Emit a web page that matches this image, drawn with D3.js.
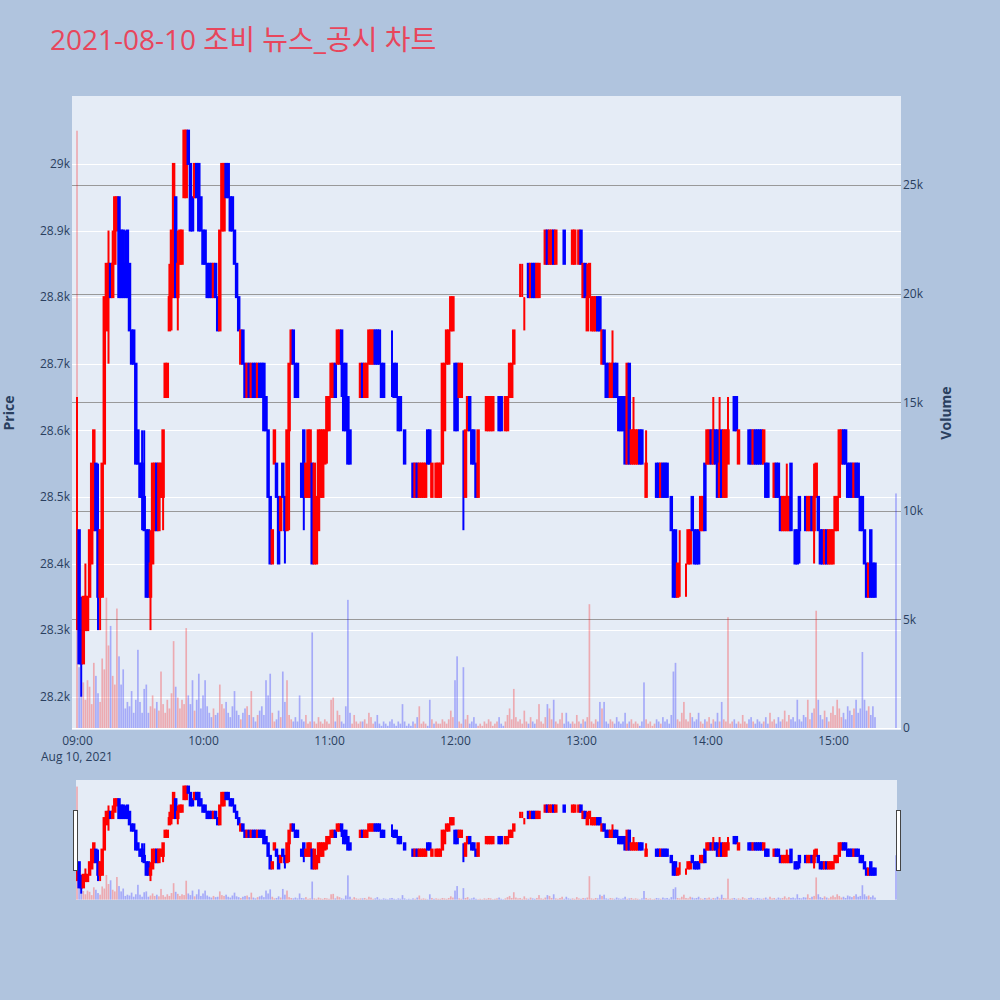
<!DOCTYPE html>
<html>
<head>
<meta charset="utf-8">
<script src="https://cdn.jsdelivr.net/npm/d3@7"></script>
<style>
  body { margin: 0; background: #b0c4de; }
  svg { display: block; }
</style>
</head>
<body>
<div id="chart"></div>
<script>
const tradeDate = '2021-08-10';
const chartTitle = '2021-08-10 조비 뉴스_공시 차트';

const times = [
	'09:00','09:01','09:02','09:03','09:04','09:05','09:06','09:07','09:08','09:09',
	'09:10','09:11','09:12','09:13','09:14','09:15','09:16','09:17','09:18','09:19',
	'09:20','09:21','09:22','09:23','09:24','09:25','09:26','09:27','09:28','09:29',
	'09:30','09:31','09:32','09:33','09:34','09:35','09:36','09:37','09:38','09:39',
	'09:40','09:41','09:42','09:43','09:44','09:45','09:46','09:47','09:48','09:49',
	'09:50','09:51','09:52','09:53','09:54','09:55','09:56','09:57','09:58','09:59',
	'10:00','10:01','10:02','10:03','10:04','10:05','10:06','10:07','10:08','10:09',
	'10:10','10:11','10:12','10:13','10:14','10:15','10:16','10:17','10:18','10:19',
	'10:20','10:21','10:22','10:23','10:24','10:25','10:26','10:27','10:28','10:29',
	'10:30','10:31','10:32','10:33','10:34','10:35','10:36','10:37','10:38','10:39',
	'10:40','10:41','10:42','10:43','10:44','10:45','10:46','10:47','10:48','10:49',
	'10:50','10:51','10:52','10:53','10:54','10:55','10:56','10:57','10:58','10:59',
	'11:00','11:01','11:02','11:03','11:04','11:05','11:06','11:07','11:08','11:09',
	'11:10','11:11','11:12','11:13','11:14','11:15','11:16','11:17','11:18','11:19',
	'11:20','11:21','11:22','11:23','11:24','11:25','11:26','11:27','11:28','11:29',
	'11:30','11:31','11:32','11:33','11:34','11:35','11:36','11:37','11:38','11:39',
	'11:40','11:41','11:42','11:43','11:44','11:45','11:46','11:47','11:48','11:49',
	'11:50','11:51','11:52','11:53','11:54','11:55','11:56','11:57','11:58','11:59',
	'12:00','12:01','12:02','12:03','12:04','12:05','12:06','12:07','12:08','12:09',
	'12:10','12:11','12:12','12:13','12:14','12:15','12:16','12:17','12:18','12:19',
	'12:20','12:21','12:22','12:23','12:24','12:25','12:26','12:27','12:28','12:29',
	'12:30','12:31','12:32','12:33','12:34','12:35','12:36','12:37','12:38','12:39',
	'12:40','12:41','12:42','12:43','12:44','12:45','12:46','12:47','12:48','12:49',
	'12:50','12:51','12:52','12:53','12:54','12:55','12:56','12:57','12:58','12:59',
	'13:00','13:01','13:02','13:03','13:04','13:05','13:06','13:07','13:08','13:09',
	'13:10','13:11','13:12','13:13','13:14','13:15','13:16','13:17','13:18','13:19',
	'13:20','13:21','13:22','13:23','13:24','13:25','13:26','13:27','13:28','13:29',
	'13:30','13:31','13:32','13:33','13:34','13:35','13:36','13:37','13:38','13:39',
	'13:40','13:41','13:42','13:43','13:44','13:45','13:46','13:47','13:48','13:49',
	'13:50','13:51','13:52','13:53','13:54','13:55','13:56','13:57','13:58','13:59',
	'14:00','14:01','14:02','14:03','14:04','14:05','14:06','14:07','14:08','14:09',
	'14:10','14:11','14:12','14:13','14:14','14:15','14:16','14:17','14:18','14:19',
	'14:20','14:21','14:22','14:23','14:24','14:25','14:26','14:27','14:28','14:29',
	'14:30','14:31','14:32','14:33','14:34','14:35','14:36','14:37','14:38','14:39',
	'14:40','14:41','14:42','14:43','14:44','14:45','14:46','14:47','14:48','14:49',
	'14:50','14:51','14:52','14:53','14:54','14:55','14:56','14:57','14:58','14:59',
	'15:00','15:01','15:02','15:03','15:04','15:05','15:06','15:07','15:08','15:09',
	'15:10','15:11','15:12','15:13','15:14','15:15','15:16','15:17','15:18','15:19',
	'15:20','15:30'
];

const opens = [
	28450,28450,28300,28250,28300,28300,28350,28400,28450,28550,
	28450,28350,28350,28550,28750,28800,28850,28800,28850,28900,
	28950,28900,28900,28850,28900,28850,28750,28750,28700,28600,
	28550,28550,28500,28450,28450,28350,28400,28450,28550,28450,
	28500,28500,28650,28650,28750,28800,28800,28950,28800,28850,
	28850,28950,28950,29050,29000,28950,28950,29000,29000,28950,
	28900,28900,28850,28850,28850,28800,28850,28800,28750,28900,
	28900,29000,29000,28950,28950,28900,28850,28800,28700,28750,
	28700,28650,28700,28650,28700,28700,28650,28700,28700,28700,
	28650,28600,28500,28400,28550,28550,28500,28450,28550,28500,
	28450,28600,28700,28750,28700,28700,28600,28550,28600,28500,
	28500,28500,28550,28400,28400,28450,28500,28500,28550,28600,
	28600,28650,28650,28700,28700,28700,28750,28700,28700,28650,
	28600,28650,28650,28650,28650,28650,28700,28650,28650,28700,
	28700,28700,28750,28750,28750,28700,28700,28650,28650,28650,
	28650,28700,28700,28650,28650,28600,28600,28550,28550,28550,
	28550,28500,28550,28500,28500,28500,28500,28600,28600,28500,
	28500,28500,28500,28500,28550,28600,28700,28700,28750,28750,
	28700,28700,28650,28650,28600,28500,28600,28650,28600,28600,
	28550,28500,28600,28600,28600,28600,28600,28600,28600,28650,
	28650,28650,28650,28600,28600,28600,28650,28650,28700,28800,
	28800,28800,28800,28800,28800,28850,28800,28850,28850,28800,
	28800,28850,28850,28850,28900,28850,28850,28900,28850,28900,
	28900,28900,28900,28850,28850,28850,28850,28850,28900,28850,
	28900,28800,28850,28750,28800,28750,28750,28750,28800,28800,
	28700,28750,28700,28700,28650,28650,28700,28700,28650,28650,
	28650,28650,28550,28700,28550,28550,28550,28550,28600,28600,
	28550,28500,28550,28550,28550,28550,28550,28550,28500,28550,
	28550,28550,28500,28500,28450,28450,28350,28400,28400,28400,
	28400,28400,28400,28500,28450,28450,28450,28450,28450,28550,
	28550,28550,28600,28550,28600,28600,28500,28600,28500,28500,
	28550,28650,28650,28650,28650,28550,28600,28600,28600,28600,
	28600,28600,28550,28600,28600,28600,28600,28550,28550,28550,
	28550,28550,28500,28550,28550,28500,28450,28450,28450,28450,
	28550,28450,28450,28450,28500,28450,28450,28500,28450,28450,
	28500,28450,28500,28500,28450,28450,28400,28450,28400,28400,
	28400,28450,28450,28500,28550,28600,28600,28550,28550,28550,
	28500,28550,28550,28500,28500,28450,28400,28350,28450,28400,
	28400,28350
];

const highs = [
	28650,28450,28350,28350,28400,28350,28450,28550,28600,28550,
	28550,28450,28550,28800,28850,28900,28850,28900,28950,28950,
	28950,28900,28900,28900,28900,28850,28750,28750,28700,28600,
	28550,28600,28600,28450,28450,28450,28550,28550,28550,28550,
	28550,28600,28700,28700,28850,28900,29000,28950,28900,28900,
	28900,29050,29050,29050,29000,28950,29000,29000,29000,28950,
	28900,28900,28850,28850,28850,28850,28850,28800,28900,29000,
	29000,29000,29000,28950,28950,28900,28850,28800,28750,28750,
	28700,28700,28700,28700,28700,28700,28700,28700,28700,28700,
	28650,28600,28500,28450,28600,28550,28500,28500,28550,28500,
	28600,28700,28750,28750,28700,28700,28600,28550,28600,28550,
	28600,28600,28550,28550,28500,28600,28600,28600,28600,28650,
	28650,28700,28700,28700,28750,28750,28750,28700,28700,28650,
	28600,28650,28650,28650,28650,28700,28700,28700,28700,28750,
	28750,28750,28750,28750,28750,28700,28700,28650,28650,28650,
	28750,28700,28700,28650,28650,28600,28600,28550,28550,28550,
	28550,28550,28550,28550,28550,28550,28550,28600,28600,28550,
	28500,28550,28550,28550,28700,28700,28750,28750,28800,28800,
	28700,28700,28700,28700,28600,28600,28650,28650,28600,28600,
	28550,28600,28600,28600,28600,28650,28650,28650,28650,28650,
	28650,28650,28650,28600,28650,28650,28700,28700,28750,28800,
	28800,28850,28850,28800,28800,28850,28850,28850,28850,28850,
	28850,28850,28850,28900,28900,28900,28900,28900,28900,28900,
	28900,28900,28900,28850,28850,28850,28900,28900,28900,28900,
	28900,28850,28850,28850,28850,28800,28800,28800,28800,28800,
	28750,28750,28700,28700,28700,28750,28700,28700,28650,28650,
	28650,28650,28700,28700,28600,28650,28600,28600,28600,28600,
	28550,28600,28550,28550,28550,28550,28550,28550,28550,28550,
	28550,28550,28500,28500,28450,28450,28400,28450,28400,28400,
	28400,28450,28450,28500,28450,28450,28450,28500,28500,28550,
	28600,28600,28600,28650,28600,28600,28650,28600,28600,28600,
	28650,28650,28650,28650,28650,28600,28600,28600,28600,28600,
	28600,28600,28600,28600,28600,28600,28600,28600,28550,28550,
	28550,28550,28550,28550,28550,28500,28500,28500,28550,28500,
	28550,28450,28450,28450,28500,28450,28450,28500,28500,28500,
	28500,28550,28550,28500,28450,28450,28450,28450,28450,28450,
	28450,28500,28500,28600,28600,28600,28600,28550,28550,28550,
	28550,28550,28550,28500,28500,28450,28400,28400,28450,28400,
	28400,28350
];

const lows = [
	28300,28250,28200,28250,28300,28300,28350,28400,28450,28450,
	28300,28300,28350,28550,28750,28700,28800,28800,28850,28900,
	28800,28800,28800,28800,28800,28750,28700,28700,28550,28550,
	28500,28450,28450,28350,28350,28300,28400,28450,28450,28450,
	28500,28450,28650,28650,28750,28750,28800,28800,28750,28850,
	28850,28950,28950,29000,28900,28900,28950,28950,28900,28900,
	28850,28850,28800,28800,28800,28800,28800,28750,28750,28900,
	28900,28950,28950,28900,28900,28850,28800,28750,28700,28700,
	28650,28650,28650,28650,28650,28650,28650,28650,28650,28600,
	28600,28500,28400,28400,28550,28500,28400,28450,28500,28400,
	28450,28450,28700,28700,28650,28650,28600,28500,28450,28500,
	28500,28500,28400,28400,28400,28450,28500,28500,28550,28550,
	28600,28650,28650,28650,28700,28700,28650,28600,28600,28550,
	28550,28650,28650,28650,28650,28650,28650,28650,28650,28700,
	28700,28700,28700,28700,28700,28650,28650,28650,28650,28650,
	28650,28650,28650,28600,28600,28600,28550,28550,28550,28550,
	28500,28500,28500,28500,28500,28500,28500,28550,28550,28500,
	28500,28500,28500,28500,28550,28600,28700,28700,28750,28750,
	28600,28600,28650,28650,28450,28500,28600,28600,28550,28550,
	28500,28500,28600,28600,28600,28600,28600,28600,28600,28650,
	28650,28600,28600,28600,28600,28600,28650,28650,28700,28800,
	28800,28800,28800,28750,28800,28800,28800,28800,28800,28800,
	28800,28850,28850,28850,28850,28850,28850,28850,28850,28900,
	28900,28900,28850,28850,28850,28850,28850,28850,28900,28850,
	28850,28800,28800,28750,28800,28750,28750,28750,28750,28750,
	28700,28700,28650,28650,28650,28650,28650,28650,28600,28600,
	28600,28550,28550,28550,28550,28550,28550,28550,28550,28550,
	28550,28500,28550,28550,28550,28550,28500,28500,28500,28500,
	28500,28500,28500,28450,28350,28350,28350,28350,28400,28400,
	28350,28400,28400,28450,28400,28400,28400,28450,28450,28450,
	28550,28550,28550,28550,28550,28500,28500,28500,28500,28500,
	28550,28650,28650,28600,28600,28550,28600,28600,28600,28600,
	28550,28550,28550,28550,28550,28550,28550,28550,28500,28500,
	28550,28550,28500,28500,28500,28450,28450,28450,28450,28450,
	28450,28450,28400,28400,28400,28450,28450,28450,28450,28450,
	28450,28400,28500,28450,28400,28400,28400,28400,28400,28400,
	28400,28450,28450,28500,28550,28550,28550,28500,28500,28500,
	28500,28500,28500,28450,28450,28400,28350,28350,28350,28350,
	28350,28350
];

const closes = [
	28450,28250,28250,28350,28350,28350,28450,28550,28600,28450,
	28350,28450,28550,28800,28850,28850,28800,28850,28950,28950,
	28800,28800,28800,28800,28800,28750,28700,28700,28550,28550,
	28500,28500,28450,28350,28350,28400,28550,28550,28450,28550,
	28550,28600,28700,28700,28800,28900,29000,28800,28850,28900,
	28900,29050,29050,29000,28900,28900,29000,28950,28900,28900,
	28850,28850,28800,28800,28800,28850,28800,28750,28900,29000,
	29000,28950,28950,28900,28900,28850,28800,28750,28750,28700,
	28650,28700,28650,28700,28650,28650,28700,28650,28650,28600,
	28600,28500,28400,28450,28600,28500,28400,28500,28500,28450,
	28600,28700,28750,28700,28650,28650,28600,28500,28500,28550,
	28600,28600,28400,28550,28500,28600,28600,28600,28600,28650,
	28650,28700,28700,28650,28750,28750,28700,28600,28600,28550,
	28550,28650,28650,28650,28650,28700,28650,28700,28700,28750,
	28750,28750,28700,28700,28700,28650,28650,28650,28650,28650,
	28650,28650,28650,28600,28600,28600,28550,28550,28550,28550,
	28500,28550,28500,28550,28550,28550,28550,28550,28550,28550,
	28500,28550,28550,28550,28700,28700,28750,28750,28800,28800,
	28600,28600,28700,28700,28600,28600,28650,28600,28550,28550,
	28500,28600,28600,28600,28600,28650,28650,28650,28650,28650,
	28650,28600,28600,28600,28650,28650,28700,28700,28750,28800,
	28800,28800,28800,28800,28800,28800,28850,28800,28800,28850,
	28850,28850,28850,28900,28850,28900,28900,28850,28900,28900,
	28900,28900,28850,28850,28850,28850,28900,28900,28900,28900,
	28850,28850,28800,28800,28850,28800,28800,28800,28750,28750,
	28750,28700,28650,28650,28700,28700,28650,28650,28600,28600,
	28600,28550,28700,28550,28600,28600,28600,28600,28550,28550,
	28550,28550,28550,28550,28550,28550,28500,28500,28550,28500,
	28500,28500,28500,28450,28350,28350,28400,28400,28400,28400,
	28400,28450,28450,28450,28400,28400,28400,28500,28500,28450,
	28600,28600,28550,28600,28550,28500,28550,28500,28600,28600,
	28600,28650,28650,28600,28600,28600,28600,28600,28600,28600,
	28550,28550,28600,28550,28550,28550,28550,28600,28500,28500,
	28550,28550,28550,28500,28500,28450,28500,28500,28500,28500,
	28450,28450,28400,28400,28450,28450,28450,28450,28500,28500,
	28450,28500,28550,28450,28400,28400,28450,28400,28450,28450,
	28450,28500,28500,28600,28600,28550,28550,28500,28500,28500,
	28550,28500,28500,28450,28450,28400,28350,28400,28350,28350,
	28350,28350
];

const volumes = [
	27500,2800,1500,2100,1300,2200,1900,1100,3000,2400,
	1600,1200,3200,2700,6000,3800,4700,2400,2000,5500,
	3300,2000,2700,900,1200,1000,1700,700,1300,3600,
	1200,700,1800,2000,700,1000,1500,900,1200,800,
	2600,1100,700,1300,900,1600,4000,1900,1400,900,
	1300,1100,4600,1500,1100,2200,800,1300,2500,900,
	1500,2200,1000,700,500,900,600,700,2000,1100,
	900,1200,700,500,1000,1700,800,600,400,700,
	900,1000,600,1700,500,300,600,800,1000,600,
	2200,1500,2500,700,300,400,800,500,2600,1200,
	2200,600,400,300,500,300,1500,400,300,600,
	200,300,4400,300,200,500,300,200,400,300,
	200,1300,1400,300,800,600,300,200,1000,5900,
	700,200,600,300,200,300,300,400,200,700,
	500,200,300,600,200,100,300,200,100,300,
	400,200,100,300,200,1100,300,100,200,100,
	300,200,500,1000,200,300,200,100,1300,400,
	200,300,200,200,400,300,200,400,800,500,
	2200,3300,300,200,2800,400,600,200,300,500,
	200,100,200,100,300,200,400,300,100,200,
	300,500,200,100,300,600,900,400,1800,500,
	300,400,200,800,300,200,500,300,200,400,
	1100,300,200,500,1100,900,400,1300,300,200,
	400,700,200,700,300,200,300,200,600,300,
	200,400,300,500,5700,300,200,400,300,1200,
	900,1200,300,200,400,300,200,500,300,200,
	300,700,200,300,400,200,300,200,100,300,
	2100,400,200,300,100,200,400,300,200,500,
	300,400,200,600,2600,3000,400,300,700,1200,
	400,300,700,500,300,400,700,300,200,400,
	300,500,200,400,300,700,300,1200,400,300,
	5100,200,300,400,200,300,200,600,300,200,
	400,500,300,200,400,300,200,300,500,200,
	700,300,400,200,500,300,400,800,300,600,
	400,500,300,1300,400,300,600,500,1300,400,
	700,900,5400,1300,600,400,800,500,300,700,
	1000,600,1300,900,500,700,400,1000,800,600,
	900,1300,700,900,3500,1300,800,1000,600,1000,
	500,10800
];

const priceTicks = [28200, 28300, 28400, 28500, 28600, 28700, 28800, 28900, 29000];
const volumeTicks = [0, 5000, 10000, 15000, 20000, 25000];
const hourTicks = ['09:00', '10:00', '11:00', '12:00', '13:00', '14:00', '15:00'];

const upColor = '#ff0000';
const downColor = '#0000ff';
const textColor = '#2a3f5f';
const font = '"Open Sans", "Noto Sans CJK KR", sans-serif';

const parseTime = d3.timeParse('%Y-%m-%d %H:%M:%S');
const at = (hm, s = '00') => parseTime(`${tradeDate} ${hm}:${s}`);

const rows = times.map((t, i) => ({
	t: at(t),
	o: opens[i],
	h: highs[i],
	l: lows[i],
	c: closes[i],
	v: volumes[i],
}));

// flat candles keep the previous direction unless the close moved (plotly rule)
let rising = true;
let prevClose = null;
rows.forEach((d) => {
	if (d.c === d.o) {
		if (prevClose !== null && d.c !== prevClose) rising = d.c > prevClose;
	} else rising = d.c > d.o;
	d.up = rising;
	prevClose = d.c;
});

const plot = { left: 72, right: 901, top: 96, bottom: 730 };
const slider = { left: 76, right: 897, top: 780, bottom: 900 };

const x = d3
	.scaleTime()
	.domain([at('08:57', '37'), at('15:32', '23')])
	.range([plot.left, plot.right]);

const yPrice = d3.scaleLinear().domain([28150, 29102]).range([plot.bottom, plot.top]);
const yVol = d3.scaleLinear().domain([-92, 29098]).range([plot.bottom, plot.top]);
const ySliderPrice = yPrice.copy().range([slider.bottom, slider.top]);
const ySliderVol = yVol.copy().range([slider.bottom, slider.top]);

const svg = d3
	.select('#chart')
	.append('svg')
	.attr('width', 1000)
	.attr('height', 1000)
	.style('font-family', font);

svg.append('rect').attr('width', 1000).attr('height', 1000).attr('fill', '#b0c4de');

// Title
svg
	.append('text')
	.attr('x', 50)
	.attr('y', 50)
	.attr('font-size', 28)
	.attr('fill', '#e8465c')
	.text(chartTitle);

// Plot area + grid
svg
	.append('rect')
	.attr('x', plot.left)
	.attr('y', plot.top)
	.attr('width', plot.right - plot.left)
	.attr('height', plot.bottom - plot.top)
	.attr('fill', '#e5ecf6');

svg
	.append('g')
	.selectAll('line')
	.data(priceTicks)
	.join('line')
	.attr('x1', plot.left)
	.attr('x2', plot.right)
	.attr('y1', (d) => Math.round(yPrice(d)) + 0.5)
	.attr('y2', (d) => Math.round(yPrice(d)) + 0.5)
	.attr('stroke', '#fff');

svg
	.append('g')
	.selectAll('line')
	.data(volumeTicks)
	.join('line')
	.attr('x1', plot.left)
	.attr('x2', plot.right)
	.attr('y1', (d) => Math.round(yVol(d)) + 0.5)
	.attr('y2', (d) => Math.round(yVol(d)) + 0.5)
	.attr('stroke', (d) => (d === 0 ? '#fff' : '#999'));

svg
	.append('clipPath')
	.attr('id', 'plot-clip')
	.append('rect')
	.attr('x', plot.left)
	.attr('y', plot.top)
	.attr('width', plot.right - plot.left)
	.attr('height', plot.bottom - plot.top);

// draws volume bars then candles into a group with the given y scales
const drawSeries = (g, yP, yV) => {
	const bw = 1.68;
	g.append('g')
		.selectAll('rect')
		.data(rows)
		.join('rect')
		.attr('x', (d) => x(d.t) - bw / 2)
		.attr('width', bw)
		.attr('y', (d) => yV(d.v))
		.attr('height', (d) => yV(0) - yV(d.v))
		.attr('fill', (d) => (d.up ? upColor : downColor))
		.attr('fill-opacity', 0.28);

	const candles = g.append('g').selectAll('g').data(rows).join('g');
	candles
		.append('line')
		.attr('x1', (d) => x(d.t))
		.attr('x2', (d) => x(d.t))
		.attr('y1', (d) => yP(d.h))
		.attr('y2', (d) => yP(d.l))
		.attr('stroke', (d) => (d.up ? upColor : downColor))
		.attr('stroke-width', 2);
	const cw = 1.47;
	candles
		.append('rect')
		.attr('x', (d) => x(d.t) - cw / 2)
		.attr('width', cw)
		.attr('y', (d) => yP(Math.max(d.o, d.c)))
		.attr('height', (d) => Math.abs(yP(d.o) - yP(d.c)))
		.attr('fill', (d) => (d.up ? upColor : downColor))
		.attr('stroke', (d) => (d.up ? upColor : downColor))
		.attr('stroke-width', 2);
};

drawSeries(svg.append('g').attr('clip-path', 'url(#plot-clip)'), yPrice, yVol);

// Axes
const styleAxis = (g) => {
	g.select('.domain').remove();
	g.attr('font-family', font).attr('font-size', 12);
	g.selectAll('text').attr('fill', textColor);
};

svg
	.append('g')
	.attr('transform', `translate(${plot.left},0)`)
	.call(d3.axisLeft(yPrice).tickValues(priceTicks).tickSize(0).tickPadding(2).tickFormat(d3.format('~s')))
	.call(styleAxis);

svg
	.append('g')
	.attr('transform', `translate(${plot.right},0)`)
	.call(d3.axisRight(yVol).tickValues(volumeTicks).tickSize(0).tickPadding(2).tickFormat(d3.format('~s')))
	.call(styleAxis);

svg
	.append('g')
	.attr('transform', `translate(0,${plot.bottom})`)
	.call(
		d3
			.axisBottom(x)
			.tickValues(hourTicks.map((h) => at(h)))
			.tickSize(0)
			.tickPadding(6)
			.tickFormat(d3.timeFormat('%H:%M'))
	)
	.call(styleAxis);

svg
	.append('text')
	.attr('x', x(at(hourTicks[0])))
	.attr('y', 761)
	.attr('text-anchor', 'middle')
	.attr('font-size', 12)
	.attr('fill', textColor)
	.text(d3.timeFormat('%b %-d, %Y')(at(hourTicks[0])));

// Axis titles
svg
	.append('text')
	.attr('transform', 'translate(14,413) rotate(-90)')
	.attr('text-anchor', 'middle')
	.attr('font-size', 14)
	.attr('font-weight', 'bold')
	.attr('fill', textColor)
	.text('Price');

svg
	.append('text')
	.attr('transform', 'translate(951,413) rotate(-90)')
	.attr('text-anchor', 'middle')
	.attr('font-size', 14)
	.attr('font-weight', 'bold')
	.attr('fill', textColor)
	.text('Volume');

// Range slider
svg
	.append('rect')
	.attr('x', slider.left)
	.attr('y', slider.top)
	.attr('width', slider.right - slider.left)
	.attr('height', slider.bottom - slider.top)
	.attr('fill', '#e5ecf6');

drawSeries(svg.append('g'), ySliderPrice, ySliderVol);

[slider.left - 3, slider.right - 1].forEach((hx) => {
	svg
		.append('rect')
		.attr('x', hx + 0.5)
		.attr('y', 810.5)
		.attr('width', 4)
		.attr('height', 60)
		.attr('fill', '#fff')
		.attr('stroke', '#444')
		.attr('stroke-width', 1);
});
</script>
</body>
</html>
